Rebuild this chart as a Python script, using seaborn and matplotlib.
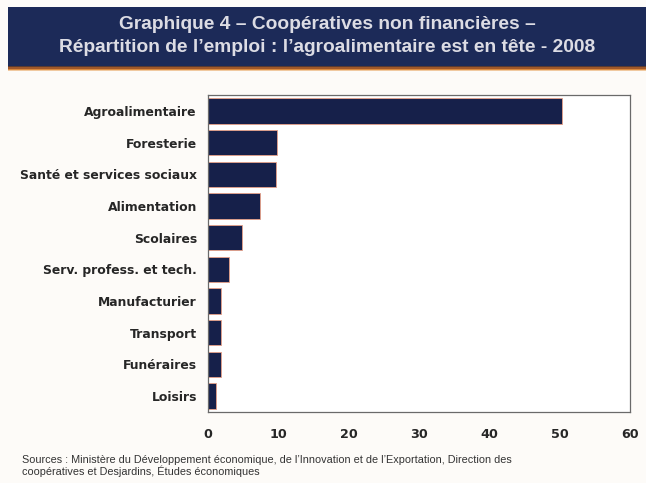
import matplotlib
matplotlib.use("Agg")
import matplotlib.pyplot as plt
import seaborn as sns
import pandas as pd
from matplotlib.patches import Rectangle
from matplotlib.ticker import FixedLocator

# =====================================================
# DATA
# =====================================================

categories = [
    "Agroalimentaire",
    "Foresterie",
    "Santé et services sociaux",
    "Alimentation",
    "Scolaires",
    "Serv. profess. et tech.",
    "Manufacturier",
    "Transport",
    "Funéraires",
    "Loisirs",
]

emploi = [50.3, 9.8, 9.7, 7.4, 4.9, 3.0, 1.9, 1.8, 1.8, 1.2]

x_ticks = [0, 10, 20, 30, 40, 50, 60]

title_lines = [
    "Graphique 4 – Coopératives non financières –",
    "Répartition de l’emploi : l’agroalimentaire est en tête - 2008",
]

source_text = (
    "Sources : Ministère du Développement économique, de l’Innovation et de l’Exportation, Direction des\n"
    "coopératives et Desjardins, Études économiques"
)

df = pd.DataFrame({"secteur": categories, "emploi": emploi})

# =====================================================
# STYLE
# =====================================================

NAVY = "#16204a"
BG = "#fdfbf8"

sns.set_style("white")
plt.rcParams["font.family"] = ["Liberation Sans", "DejaVu Sans"]

fig = plt.figure(figsize=(6.46, 4.83), dpi=100, facecolor=BG)

# header banner
fig.patches.append(Rectangle((0.012, 0.863), 0.988, 0.122, transform=fig.transFigure,
                             facecolor="#1c2a58", edgecolor="none", zorder=0))
band_colors = ["#5a3a30", "#a0582a", "#d9893f", "#f0c9a0"]
for i, c in enumerate(band_colors):
    fig.patches.append(Rectangle((0.012, 0.863 - (i + 1) * 0.0025), 0.988, 0.0025,
                                 transform=fig.transFigure, facecolor=c,
                                 edgecolor="none", zorder=0))

fig.text(0.506, 0.950, title_lines[0], ha="center", va="center",
         fontsize=13.8, fontweight="bold", color="#dcdce4")
fig.text(0.506, 0.902, title_lines[1], ha="center", va="center",
         fontsize=13.8, fontweight="bold", color="#dcdce4")

# =====================================================
# BAR CHART
# =====================================================

ax = fig.add_axes([0.322, 0.147, 0.653, 0.656])
ax.set_facecolor("white")

sns.barplot(
    data=df,
    x="emploi",
    y="secteur",
    color=NAVY,
    saturation=1,
    width=0.8,
    edgecolor="#e8a088",
    linewidth=0.6,
    ax=ax,
)

ax.set_xlim(0, 60)
ax.set_ylim(len(categories) - 0.5, -0.5)
ax.set_xticks(x_ticks)
ax.set_xticklabels([str(t) for t in x_ticks], fontsize=9.2, fontweight="bold",
                   family=["DejaVu Sans"])
ax.set_yticks(range(len(categories)))
ax.set_yticklabels(categories, fontsize=8.9, fontweight="bold", family=["DejaVu Sans"])
ax.yaxis.set_minor_locator(FixedLocator([i - 0.5 for i in range(len(categories) + 1)]))
ax.tick_params(axis="y", which="major", length=0, pad=8)
ax.tick_params(axis="y", which="minor", length=3, color="#555555", direction="out")
ax.tick_params(axis="x", which="major", length=3, color="#777777", direction="inout", pad=10)
ax.set_xlabel("")
ax.set_ylabel("")

for side in ["left", "bottom", "right", "top"]:
    ax.spines[side].set_visible(True)
    ax.spines[side].set_color("#6a6a6a")
    ax.spines[side].set_linewidth(0.9)

# =====================================================
# SOURCE
# =====================================================

fig.text(0.034, 0.012, source_text, ha="left", va="bottom",
         fontsize=7.8, color="#333333", linespacing=1.05)

fig.savefig("out.png", dpi=100, facecolor=BG)
plt.close(fig)
